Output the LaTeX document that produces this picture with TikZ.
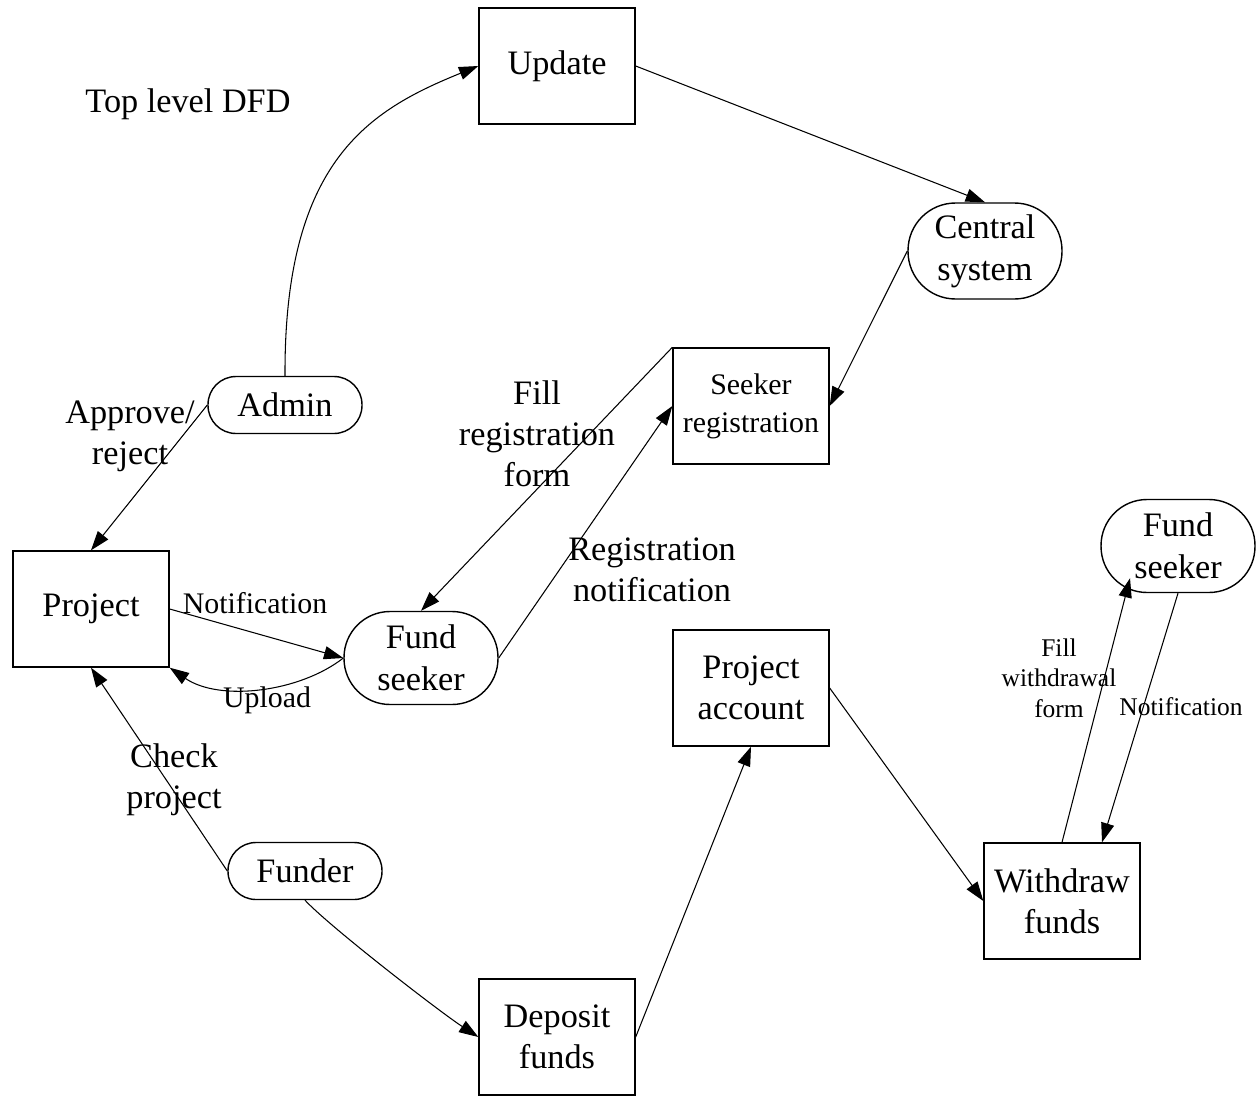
\documentclass[tikz,border=0pt]{standalone}
\usepackage{fontspec}
\setmainfont{Liberation Serif}
\usetikzlibrary{arrows.meta}

\begin{document}
\begin{tikzpicture}[x=0.02cm,y=-0.02cm]
            \tikzstyle{process node}=[draw,line width=0.8pt,minimum width=3.12cm,minimum height=2.32cm,inner sep=0pt,align=center,font=\fontsize{19.5}{23.5}\selectfont]
            \tikzstyle{entity node}=[draw,line width=0.8pt,rounded corners=0.92cm,minimum width=3.08cm,minimum height=1.86cm,inner sep=0pt,align=center,font=\fontsize{19.5}{24}\selectfont]
            \tikzstyle{small entity}=[entity node,rounded corners=0.56cm,minimum height=1.14cm]
            \tikzstyle{label node}=[align=center,inner sep=0pt,font=\fontsize{19.5}{23.2}\selectfont]
            \tikzstyle{small label}=[label node,font=\fontsize{14.5}{17.3}\selectfont]
            \tikzstyle{flow}=[-{Triangle[length=11pt,width=7.5pt]},line width=0.6pt]

            \useasboundingbox (0,0) rectangle (1256,1095);

            \node[label node] (title) at (188,104) {Top level DFD};
            \node[process node] (update) at (557,66) {Update};
            \node[entity node,minimum height=1.92cm,rounded corners=0.95cm] (central) at (985,251) {Central\\system};
            \node[process node,font=\fontsize{17}{21.5}\selectfont] (sreg) at (751,406) {Seeker\\registration};
            \node[small entity] (admin) at (285,405) {Admin};
            \node[process node] (project) at (91,609) {Project};
            \node[entity node] (fseek) at (421,658) {Fund\\seeker};
            \node[entity node] (fseekr) at (1178,546) {Fund\\seeker};
            \node[process node] (paccount) at (751,688) {Project\\account};
            \node[process node] (withdraw) at (1062,901) {Withdraw\\funds};
            \node[small entity] (funder) at (305,871) {Funder};
            \node[process node] (deposit) at (557,1037) {Deposit\\funds};

            \draw[flow] (admin.north) .. controls (284,160) and (370,110) .. (update.west);
            \draw[flow] (update.east) -- (central.north);
            \draw[flow] (central.west) -- (sreg.east);
            \draw[flow] (sreg.north west) -- (fseek.north);
            \draw[flow] (fseek.east) -- (sreg.west);
            \draw[flow] (admin.west) -- (project.north);
            \draw[flow] (project.east) -- (fseek.west);
            \draw[flow] (fseek.west) .. controls (300,692) and (220,702) .. (project.south east);
            \draw[flow] (funder.west) -- (project.south);
            \draw[flow] (funder.south) .. controls (330,927) and (440,1012) .. (deposit.west);
            \draw[flow] (deposit.east) -- (paccount.south);
            \draw[flow] (paccount.east) -- (withdraw.west);
            \draw[flow] (withdraw.north) -- ([xshift=-0.96cm,yshift=0.3cm]fseekr.south);
            \draw[flow] (fseekr.south) -- ([xshift=0.8cm]withdraw.north);

            \node[label node] (lblapprove) at (130,436) {Approve/\\reject};
            \node[label node,font=\fontsize{17}{20}\selectfont] (lblnotify) at (255,603) {Notification};
            \node[label node,font=\fontsize{17}{20}\selectfont] (lblupload) at (267,700) {Upload};
            \node[label node] (lblcheck) at (174,780) {Check\\project};
            \node[label node] (lblfill) at (537,434) {Fill\\registration\\form};
            \node[label node] (lblregnote) at (652,570) {Registration\\notification};
            \node[small label] (lblwithdraw) at (1059,678) {Fill\\withdrawal\\form};
            \node[small label] (lblnotifyr) at (1181,707) {Notification};
        \end{tikzpicture}
\end{document}
